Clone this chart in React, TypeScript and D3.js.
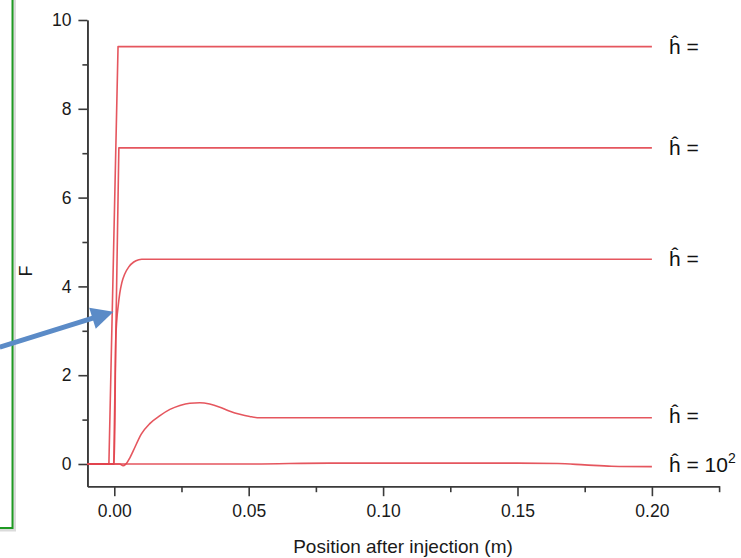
import React, { useEffect, useRef } from "react";
import * as d3 from "d3";

const W = 741;
const H = 558;

// Axis ticks
const xTicks = [0, 0.05, 0.1, 0.15, 0.2];
const xMinorTicks = [0.025, 0.075, 0.125, 0.175, 0.225];
const yTicks = [0, 2, 4, 6, 8, 10];
const yMinorTicks = [1, 3, 5, 7, 9];

// Series: position after injection (m) and F
const posA = [-0.01, -0.002, 0.0014, 0.2];
const valA = [0, 0, 9.4, 9.4];

const posB = [-0.01, -0.0002, 0.0017, 0.2];
const valB = [0, 0, 7.12, 7.12];

const posC = [-0.01, 0, 0.00056, 0.00093, 0.00149, 0.00205, 0.00279, 0.0039, 0.0054, 0.00725, 0.0091, 0.0102, 0.2];
const valC = [0, 0, 2.8, 3.24, 3.58, 3.85, 4.08, 4.28, 4.44, 4.55, 4.6, 4.61, 4.61];

const posD = [-0.01, 0.002, 0.0033, 0.0042, 0.0058, 0.007, 0.0101, 0.0132, 0.017, 0.0207, 0.0244, 0.0281, 0.0318, 0.0355, 0.0393, 0.043, 0.0467, 0.0504, 0.0541, 0.2];
const valD = [0, 0, -0.04, -0.01, 0.14, 0.29, 0.68, 0.91, 1.09, 1.23, 1.32, 1.37, 1.38, 1.35, 1.28, 1.19, 1.12, 1.07, 1.04, 1.04];

const posE = [-0.01, 0.05, 0.08, 0.15, 0.165, 0.175, 0.185, 0.2];
const valE = [0, 0, 0.02, 0.02, 0.01, -0.02, -0.05, -0.06];

const seriesPos = [posA, posB, posC, posD, posE];
const seriesVal = [valA, valB, valC, valD, valE];
const seriesSmooth = [false, false, true, true, true];

// End labels (last one carries the exponent)
const labelMain = ["ĥ =", "ĥ =", "ĥ =", "ĥ =", "ĥ = 10"];
const labelSup = ["", "", "", "", "2"];
const labelShift = [7, 7, 7, 5, 5];

// Annotation arrow (data coordinates): tail, tip
const arrowPos = [-0.0426, -0.0003];
const arrowVal = [2.63, 3.43];

const FONT = "'Liberation Sans', Arial, Helvetica, sans-serif";
const RED = "#e2444c";

export default function App() {
  const ref = useRef<SVGSVGElement>(null);

  useEffect(() => {
    const svg = d3.select(ref.current);
    svg.selectAll("*").remove();

    const x = d3.scaleLinear().domain([-0.01, 0.225]).range([87.4, 719.1]);
    const y = d3.scaleLinear().domain([-0.5, 10]).range([486.2, 20]);

    // Green frame at the left edge, with a soft shadow
    svg.append("rect")
      .attr("x", -20).attr("y", -20).attr("width", 34.5).attr("height", 550)
      .attr("fill", "none").attr("stroke", "#999").attr("stroke-opacity", 0.35)
      .attr("stroke-width", 3);
    svg.append("rect")
      .attr("x", -20).attr("y", -20).attr("width", 32.5).attr("height", 548)
      .attr("fill", "none").attr("stroke", "#1e9a22").attr("stroke-width", 2);

    // Axes
    const axisColor = "#3a3a3a";
    const gx = svg.append("g").attr("transform", `translate(0,${y(-0.5)})`);
    gx.call(
      d3.axisBottom(x).tickValues(xTicks).tickFormat(d3.format(".2f")).tickSize(10).tickSizeOuter(0).tickPadding(8)
    );
    const gxm = svg.append("g").attr("transform", `translate(0,${y(-0.5)})`);
    gxm.call(d3.axisBottom(x).tickValues(xMinorTicks).tickFormat(() => "").tickSize(6).tickSizeOuter(0));

    const gy = svg.append("g").attr("transform", `translate(${x(-0.01)},0)`);
    gy.call(d3.axisLeft(y).tickValues(yTicks).tickFormat(d3.format("d")).tickSize(9).tickSizeOuter(0).tickPadding(7));
    const gym = svg.append("g").attr("transform", `translate(${x(-0.01)},0)`);
    gym.call(d3.axisLeft(y).tickValues(yMinorTicks).tickFormat(() => "").tickSize(5).tickSizeOuter(0));

    [gx, gxm, gy, gym].forEach((g) => {
      g.selectAll("path, line").attr("stroke", axisColor).attr("stroke-width", 1.6);
      g.selectAll("text").attr("font-family", FONT).attr("font-size", 17.5).attr("fill", "#1a1a1a");
    });

    // Axis titles
    svg.append("text")
      .attr("x", 403).attr("y", 553)
      .attr("text-anchor", "middle")
      .attr("font-family", FONT).attr("font-size", 19).attr("fill", "#1a1a1a")
      .text("Position after injection (m)");
    svg.append("text")
      .attr("transform", "translate(32,271) rotate(-90)")
      .attr("text-anchor", "middle")
      .attr("font-family", FONT).attr("font-size", 18).attr("fill", "#1a1a1a")
      .text("F");

    // Curves
    seriesPos.forEach((ps, i) => {
      const pts: [number, number][] = ps.map((p, j) => [p, seriesVal[i][j]]);
      const line = d3.line<[number, number]>()
        .x((d) => x(d[0]))
        .y((d) => y(d[1]))
        .curve(seriesSmooth[i] ? d3.curveMonotoneX : d3.curveLinear);
      svg.append("path")
        .attr("d", line(pts))
        .attr("fill", "none")
        .attr("stroke", RED)
        .attr("stroke-width", 1.6)
        .attr("stroke-opacity", 0.9)
        .attr("stroke-linejoin", "round");
    });

    // End labels
    seriesVal.forEach((vals, i) => {
      const last = vals[vals.length - 1];
      const t = svg.append("text")
        .attr("x", 669)
        .attr("y", y(last) + labelShift[i])
        .attr("font-family", FONT).attr("font-size", 21).attr("fill", "#111")
        .attr("xml:space", "preserve");
      t.append("tspan").text(labelMain[i]);
      if (labelSup[i]) {
        t.append("tspan").attr("font-size", 14).attr("dy", -9).text(labelSup[i]);
      }
    });

    // Arrow pointing at the steep rise
    const x0 = x(arrowPos[0]), y0 = y(arrowVal[0]);
    const x1 = x(arrowPos[1]), y1 = y(arrowVal[1]);
    const ang = Math.atan2(y1 - y0, x1 - x0);
    const headLen = 22, headHalf = 11;
    const bx = x1 - headLen * Math.cos(ang), by = y1 - headLen * Math.sin(ang);
    const nx = -Math.sin(ang), ny = Math.cos(ang);
    const arrowColor = "#5b8bc7";
    svg.append("line")
      .attr("x1", x0).attr("y1", y0).attr("x2", bx + 2 * Math.cos(ang)).attr("y2", by + 2 * Math.sin(ang))
      .attr("stroke", arrowColor).attr("stroke-width", 5);
    svg.append("polygon")
      .attr("points", [
        [x1, y1],
        [bx + nx * headHalf, by + ny * headHalf],
        [bx - nx * headHalf, by - ny * headHalf],
      ].map((p) => p.join(",")).join(" "))
      .attr("fill", arrowColor);
  }, []);

  return (
    <svg
      ref={ref}
      width={W}
      height={H}
      style={{ position: "absolute", left: 0, top: 0, background: "#fff" }}
    />
  );
}
